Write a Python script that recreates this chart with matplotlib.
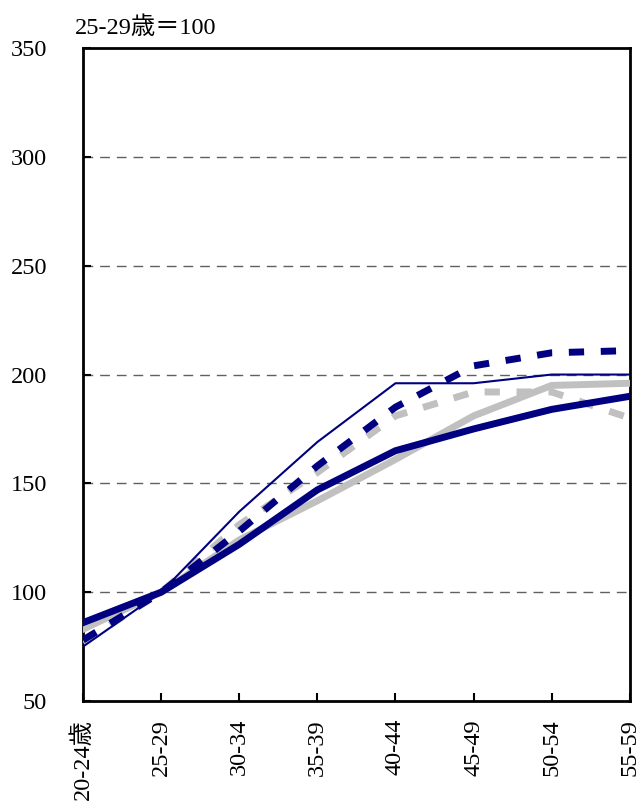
import matplotlib
matplotlib.use("Agg")
import matplotlib.pyplot as plt

plt.rcParams['font.family'] = ['Liberation Serif', 'Noto Sans CJK JP']

categories = ["20-24歳", "25-29", "30-34", "35-39", "40-44", "45-49", "50-54", "55-59"]
thin_navy = [75, 100, 137, 169, 196, 196, 200, 200]
dash_navy = [78, 100, 128, 158, 185, 204, 210, 211]
thick_navy = [86, 100, 122, 147, 165, 175, 184, 190]
gray_solid = [83, 100, 124, 142, 161, 181, 195, 196]
gray_dash = [77, 100, 131, 155, 181, 192, 192, 180]
yticks = [50, 100, 150, 200, 250, 300, 350]

fig = plt.figure(figsize=(6.4, 8.01), dpi=100)
ax = fig.add_axes([0.1297, 0.1248, 0.984 - 0.1297, 0.940 - 0.1248])

x = list(range(len(categories)))
navy = "#000080"
gray = "#c0c0c0"
dash = (0, (2.2, 2.4))

ax.plot(x, gray_solid, color=gray, lw=5, solid_joinstyle='miter', zorder=3)
ax.plot(x, gray_dash, color=gray, lw=5, linestyle=dash, zorder=3)
ax.plot(x, thick_navy, color=navy, lw=5, solid_joinstyle='miter', zorder=4)
ax.plot(x, thin_navy, color=navy, lw=1.5, zorder=4)
ax.plot(x, dash_navy, color=navy, lw=5, linestyle=dash, zorder=5)

ax.set_xlim(0, 7)
ax.set_ylim(50, 350)
ax.set_yticks(yticks)
ax.set_yticklabels([str(v) for v in yticks], fontsize=17.5)
ax.set_xticks(x)
ax.set_xticklabels(categories, rotation=90, fontsize=17.5)

for v in yticks[1:-1]:
    ax.axhline(v, color="#606060", lw=1, linestyle=(0, (7, 5)), zorder=1)

for s in ax.spines.values():
    s.set_linewidth(2)
    s.set_color("black")
ax.tick_params(axis='both', direction='in', length=6, width=1.5)
ax.tick_params(axis='x', pad=13)
ax.tick_params(axis='y', pad=26)

fig.text(0.117, 0.966, "25-29歳＝100", fontsize=17.5, ha='left', va='center')

fig.savefig("out.png", dpi=100)
